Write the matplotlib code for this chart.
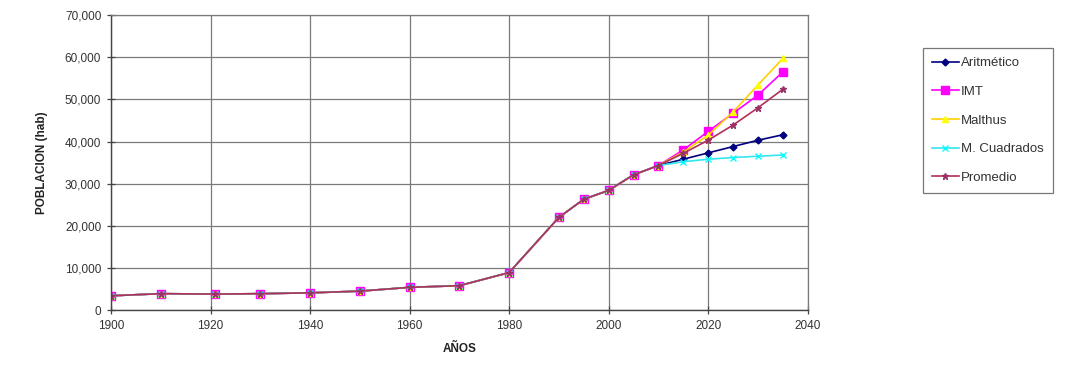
import matplotlib
matplotlib.use("Agg")
import matplotlib.pyplot as plt
from matplotlib.ticker import FuncFormatter, MultipleLocator

plt.rcParams['font.family'] = ['Liberation Sans', 'DejaVu Sans']

hist_years = [1900, 1910, 1921, 1930, 1940, 1950, 1960, 1970, 1980, 1990, 1995, 2000, 2005, 2010]
hist_pop = [3400, 3900, 3800, 3900, 4100, 4500, 5400, 5800, 8900, 22000, 26300, 28400, 32100, 34300]

proj_years = [2015, 2020, 2025, 2030, 2035]
aritmetico = [35800, 37300, 38800, 40300, 41600]
imt = [38000, 42400, 46700, 51000, 56500]
malthus = [37500, 41500, 47000, 53400, 59700]
cuadrados = [35200, 35800, 36200, 36500, 36800]
promedio = [37200, 40300, 43900, 48000, 52400]

labels = ['Aritmético', 'IMT', 'Malthus', 'M. Cuadrados', 'Promedio']
series = [aritmetico, imt, malthus, cuadrados, promedio]
colors = ['#000080', '#FF00FF', '#FFD000', '#33E6F0', '#B0305A']
mcolors = ['#000080', '#FF00FF', '#FFFF00', '#00FFFF', '#993366']
markers = ['D', 's', '^', 'x', '*']
msizes = [3.5, 5.5, 4.5, 4, 5]

fig = plt.figure(figsize=(10.67, 3.67), dpi=100)
ax = fig.add_axes([0.104, 0.155, 0.653, 0.804])

for lab, vals, c, mc, m, ms in zip(labels, series, colors, mcolors, markers, msizes):
    x = hist_years + proj_years
    y = hist_pop + vals
    ax.plot(x, y, color=c, lw=1.2, marker=m, markersize=ms,
            markerfacecolor=mc, markeredgecolor=mc, label=lab)

ax.set_xlim(1900, 2040)
ax.set_ylim(0, 70000)
ax.xaxis.set_major_locator(MultipleLocator(20))
ax.yaxis.set_major_locator(MultipleLocator(10000))
ax.yaxis.set_major_formatter(FuncFormatter(lambda v, p: f"{int(v):,}"))
ax.grid(True, color='#7a7a7a', lw=0.9)
ax.set_axisbelow(True)
for s in ['top', 'right']:
    ax.spines[s].set_color('#7a7a7a')
    ax.spines[s].set_linewidth(0.9)
for s in ['left', 'bottom']:
    ax.spines[s].set_color('#444444')
    ax.spines[s].set_linewidth(1.0)
ax.tick_params(direction='inout', length=6, width=0.9, colors='#444444',
               labelsize=8.5, labelcolor='#333333', pad=4)

ax.set_xlabel('AÑOS', fontsize=8.5, fontweight='bold', color='#222222', labelpad=8)
ax.set_ylabel('POBLACION (hab)', fontsize=8.5, fontweight='bold', color='#222222', labelpad=12)

leg = fig.legend(loc='upper left', bbox_to_anchor=(0.865, 0.87), frameon=True,
                 fancybox=False, edgecolor='#555555', fontsize=9.5,
                 handlelength=2.0, handletextpad=0.2, labelspacing=1.25,
                 borderpad=0.7, borderaxespad=0)
leg.get_frame().set_linewidth(0.9)
for t in leg.get_texts():
    t.set_color('#333333')

fig.savefig('out.png', dpi=100, facecolor='white')
